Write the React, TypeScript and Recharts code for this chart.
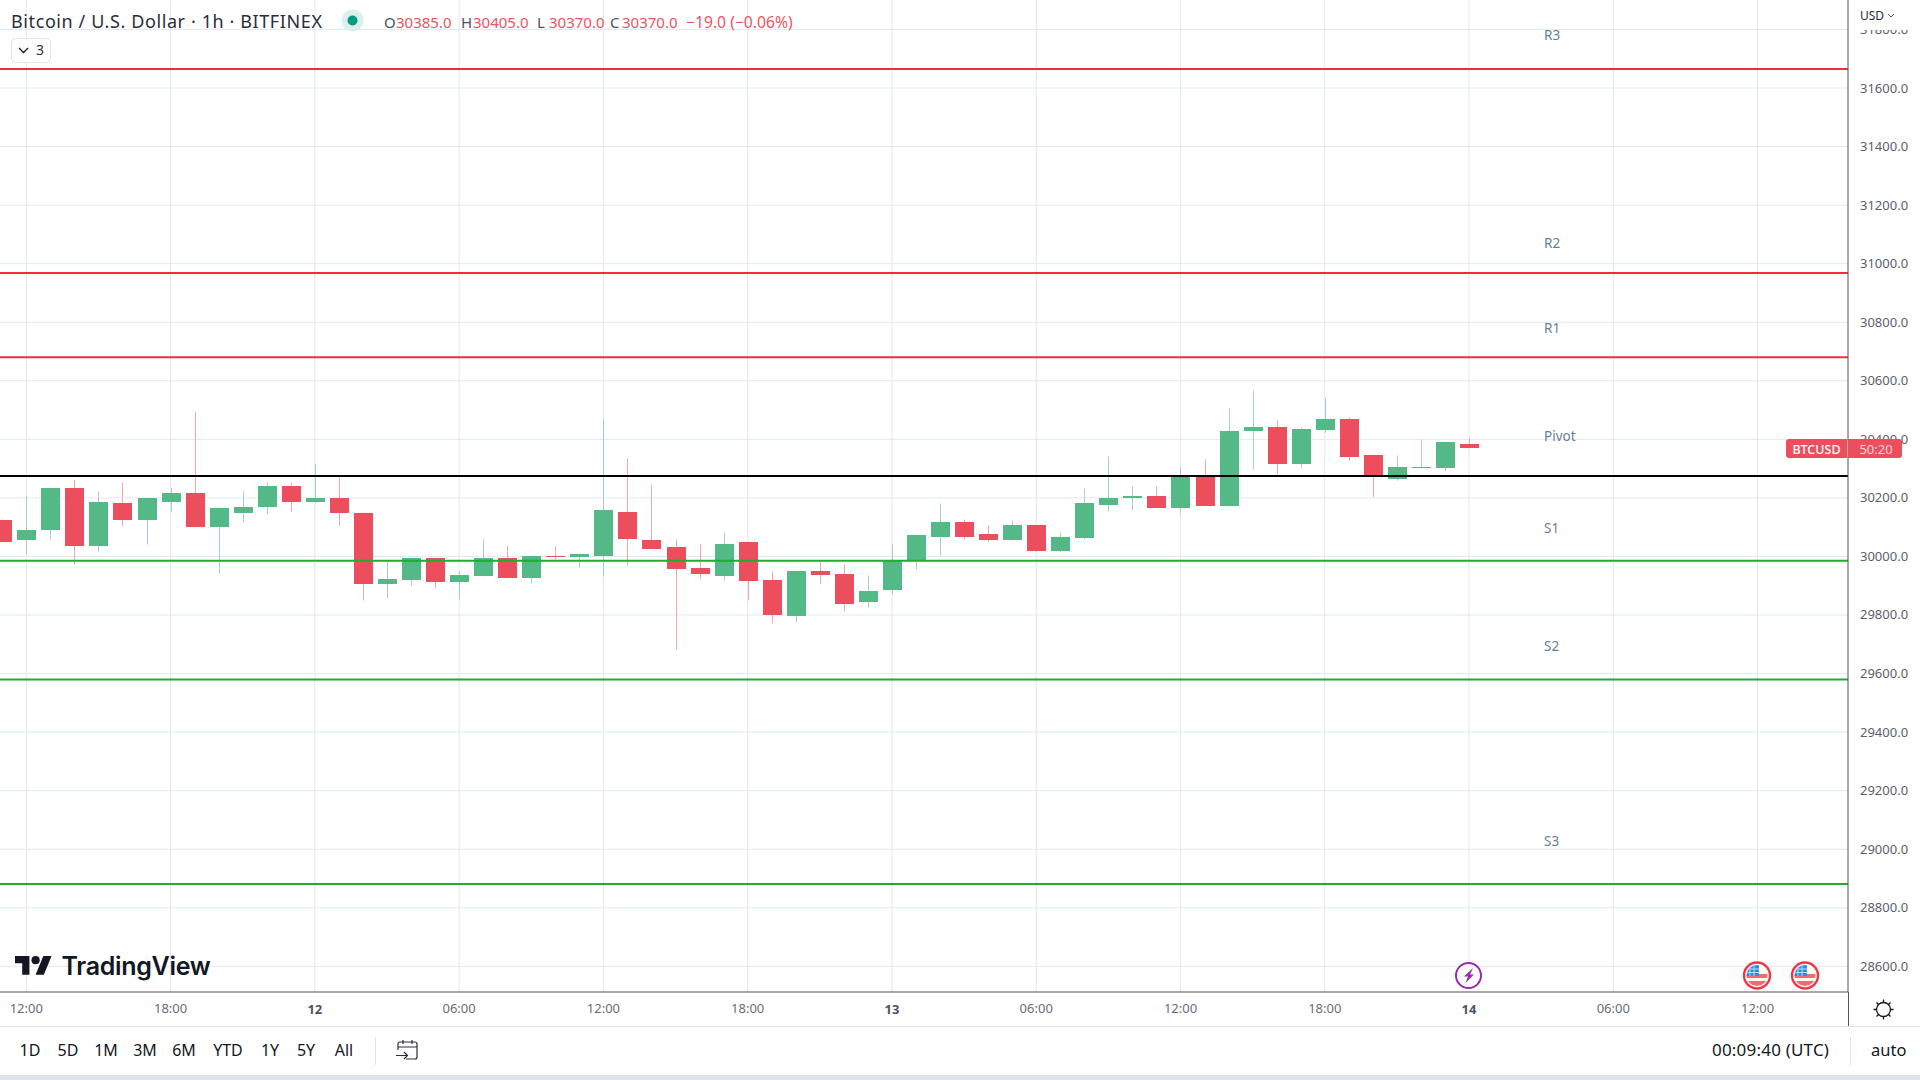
import React from "react";
import { ComposedChart, Bar, XAxis, YAxis, CartesianGrid, ReferenceLine } from "recharts";

const opens = [30123,30055,30089,30235,30037,30184,30123,30187,30218,30102,30150,30170,30242,30187,30201,30150,29905,29918,29993,29911,29932,29993,29928,30003,29997,30003,30153,30055,30031,29962,29932,30048,29918,29795,29949,29939,29843,29884,29986,30068,30119,30075,30055,30106,30017,30062,30177,30201,30208,30167,30273,30174,30430,30443,30317,30433,30470,30345,30266,30303,30303,30385];
const highs = [30126,30208,30235,30262,30222,30252,30198,30235,30494,30164,30222,30252,30252,30314,30276,30150,29983,29993,29993,29949,30058,30037,30000,30034,30010,30470,30334,30245,30058,30041,30082,30051,29949,29952,29983,29973,29935,30041,30075,30181,30126,30106,30123,30106,30082,30232,30341,30239,30239,30303,30331,30508,30566,30467,30440,30542,30474,30345,30345,30399,30392,30405];
const lows = [30048,30007,30058,29973,30014,30102,30041,30150,30099,29942,30116,30143,30153,30184,30106,29850,29857,29901,29891,29853,29932,29928,29908,29990,29962,29932,29969,30027,29682,29922,29918,29850,29772,29775,29905,29812,29826,29870,29956,30003,30058,30050,30055,30016,30015,30058,30153,30157,30167,30147,30174,30174,30297,30280,30303,30423,30327,30204,30259,30303,30293,30370];
const closes = [30048,30092,30235,30037,30187,30123,30198,30218,30099,30164,30170,30242,30187,30201,30147,29905,29922,29993,29911,29935,29995,29928,30000,29997,30007,30157,30058,30027,29956,29939,30041,29915,29799,29949,29935,29836,29881,29986,30072,30119,30068,30055,30106,30020,30068,30184,30201,30208,30167,30273,30174,30430,30443,30317,30436,30470,30338,30270,30307,30307,30392,30370];
const firstHour = -1;

const priceTicks = [28600,28800,29000,29200,29400,29600,29800,30000,30200,30400,30600,30800,31000,31200,31400,31600,31800];
const hourTicks = [0,6,12,18,24,30,36,42,48,54,60,66,72];
const hourLabels = ["12:00","18:00","12","06:00","12:00","18:00","13","06:00","12:00","18:00","14","06:00","12:00"];
const boldLabels = ["12","13","14"];

const resistanceLevels = [31665,30968,30680];
const resistanceNames = ["R3","R2","R1"];
const pivotLevel = 30275;
const supportLevels = [29985,29580,28881];
const supportNames = ["S1","S2","S3"];
const rangeButtons = ["1D","5D","1M","3M","6M","YTD","1Y","5Y","All"];

const candles = opens.map((open, i) => ({
  hour: firstHour + i,
  open,
  high: highs[i],
  low: lows[i],
  close: closes[i],
  range: [lows[i], highs[i]],
}));

const FONT = "'Noto Sans', sans-serif";
const UP = "#53b987";
const DOWN = "#ed4e5e";
const UP_WICK = "#a6cfd0";
const DOWN_WICK = "#f7a3b0";
const RED_LINE = "#ee2d3f";
const GREEN_LINE = "#1fac2f";
const LABEL = "#6a8092";

const Candle = (props: any) => {
  const { x, y, width, height, payload } = props;
  const { open, close, high, low } = payload;
  const perUnit = high === low ? 0 : height / (high - low);
  const top = y + (high - Math.max(open, close)) * perUnit;
  const bottom = y + (high - Math.min(open, close)) * perUnit;
  const up = close >= open;
  const cx = x + width / 2;
  const bx = Math.round(cx - 9.5);
  const by = Math.round(top);
  const bh = Math.max(Math.round(bottom) - by, 1);
  return (
    <g>
      <rect x={bx + 9} y={y} width={1} height={height} fill={up ? UP_WICK : DOWN_WICK} />
      <rect x={bx} y={by} width={19} height={bh} fill={up ? UP : DOWN} />
    </g>
  );
};

const XTick = (props: any) => {
  const { x, y, payload } = props;
  const label = hourLabels[hourTicks.indexOf(payload.value)];
  const bold = boldLabels.includes(label);
  return (
    <text x={x} y={y} dy={4} textAnchor="middle" fontFamily={FONT} fontSize={13} fontWeight={bold ? 700 : 400} fill={bold ? "#50535e" : "#6a6d78"} dominantBaseline="middle">
      {label}
    </text>
  );
};

const YTick = (props: any) => {
  const { x, y, payload } = props;
  return (
    <text x={x} y={y - 0.5} textAnchor="start" fontFamily={FONT} fontSize={13} fill="#5d606b" dominantBaseline="central">
      {payload.value.toFixed(1)}
    </text>
  );
};

const levelLabel = (value: string, up: number) => ({
  value,
  position: "insideLeft" as const,
  dx: 1539,
  dy: -up,
  fill: LABEL,
  fontSize: 13.5,
  fontFamily: FONT,
});

const Flag = ({ cx, id }: { cx: number; id: string }) => (
  <g>
    <clipPath id={id}><circle cx={cx} cy={975.5} r={10.5} /></clipPath>
    <circle cx={cx} cy={975.5} r={13} fill="#fff" stroke="#f23645" strokeWidth={2.4} />
    <g clipPath={`url(#${id})`}>
      <rect x={cx - 11} y={965} width={22} height={21} fill="#fff" />
      <rect x={cx - 11} y={974} width={22} height={4} fill="#f56a6a" />
      <rect x={cx - 11} y={981} width={22} height={5} fill="#f56a6a" />
      <rect x={cx - 11} y={965} width={13} height={11} fill="#2f8fe8" />
      <path d={`M${cx - 7} 966v10M${cx - 3} 966v10M${cx - 11} 969h13M${cx - 11} 972.5h13`} stroke="#d5e8fb" strokeWidth={0.8} />
    </g>
  </g>
);

const Overlay = () => (
  <svg width={1920} height={1080} style={{ position: "absolute", left: 0, top: 0, pointerEvents: "none" }}>
    <rect x={1850} y={0} width={70} height={30} fill="#fff" />
    {/* logo */}
    <g transform="translate(15,952) scale(1.03)" fill="#131722">
      <path d="M14 22H7V11H0V4h14v18zM28 22h-8l7.5-18h8L28 22z" />
      <circle cx={20} cy={8} r={4} />
    </g>
    <text x={61.5} y={975} fontFamily="Inter, sans-serif" fontWeight={600} fontSize={25} fill="#131722" letterSpacing={-0.3}>TradingView</text>
    {/* last price tag */}
    <path d="M1789 439h58v19h-58a3 3 0 0 1-3-3v-13a3 3 0 0 1 3-3z" fill="#ed4e5e" />
    <path d="M1848 439h51a3 3 0 0 1 3 3v13a3 3 0 0 1-3 3h-51z" fill="#ed4e5e" />
    <text x={1816.5} y={449} textAnchor="middle" dominantBaseline="central" fontFamily={FONT} fontSize={12.5} fontWeight={500} fill="#fff">BTCUSD</text>
    <text x={1876} y={449} textAnchor="middle" dominantBaseline="central" fontFamily={FONT} fontSize={13} fill="#fcd5da">50:20</text>
    {/* event icons */}
    <circle cx={1468.5} cy={975.5} r={12.5} fill="#fff" stroke="#9c27b0" strokeWidth={2} />
    <path d="M1473 968l-9 8.5h4l-2.5 6.5 8.5-8.5h-4l3-6.5z" fill="#9c27b0" />
    <Flag cx={1757} id="flagA" />
    <Flag cx={1805} id="flagB" />
    {/* frame */}
    <line x1={0} y1={1026.5} x2={1920} y2={1026.5} stroke="#e0e3eb" />
    <line x1={1848.5} y1={992} x2={1848.5} y2={1026} stroke="#50535e" />
    <rect x={0} y={1075} width={1920} height={5} fill="#e0e3eb" />
    <line x1={375.5} y1={1037} x2={375.5} y2={1065} stroke="#e0e3eb" />
    <line x1={1850.5} y1={1037} x2={1850.5} y2={1065} stroke="#e0e3eb" />
    {/* gear */}
    <g stroke="#131722" strokeWidth={1.3} fill="none">
      <circle cx={1883.5} cy={1009.5} r={7} />
      <path d="M1883.5 999.5v3M1883.5 1016.5v3M1873.5 1009.5h3M1890.5 1009.5h3M1876.5 1002.5l2 2M1888.5 1014.5l2 2M1876.5 1016.5l2-2M1888.5 1004.5l2-2" />
    </g>
    {/* calendar */}
    <g stroke="#2a2e39" strokeWidth={1.2} fill="none">
      <path d="M398 1050v-6a2 2 0 0 1 2-2h15a2 2 0 0 1 2 2v13a2 2 0 0 1-2 2h-9" />
      <path d="M398 1047h19M403 1040v4M412 1040v4M396 1055.5h11M404 1052l3.5 3.5-3.5 3.5" />
    </g>
    {/* interval chevron box */}
    <rect x={11.5} y={38.5} width={39} height={24} rx={4} fill="#fff" stroke="#e0e3eb" />
    <path d="M19 48l4.5 4.5 4.5-4.5" stroke="#131722" strokeWidth={1.3} fill="none" />
    {/* status dot */}
    <circle cx={352.5} cy={20.5} r={11} fill="#dbefec" />
    <circle cx={352.5} cy={20.5} r={5} fill="#089981" />
    {/* usd chevron */}
    <path d="M1888 14l3 3 3-3" stroke="#50535e" strokeWidth={1} fill="none" />
  </svg>
);

const Txt = ({ x, y, w, children, color, size, align, spacing }: any) => (
  <div style={{ position: "absolute", left: x, top: y - 12, width: w, height: 24, lineHeight: "24px", whiteSpace: "nowrap", fontFamily: FONT, fontSize: size ?? 15, letterSpacing: spacing ?? 0, color: color ?? "#131722", textAlign: align ?? "left" }}>
    {children}
  </div>
);

const RED_TEXT = "#ef5261";
const GRAY_TEXT = "#50535e";
const ohlc = [["O", "30385.0", 384], ["H", "30405.0", 461], ["L", "30370.0", 537], ["C", "30370.0", 610]] as const;
const rangeCenters = [30, 68, 106, 145, 184, 228, 270, 306, 344];

export default function App() {
  return (
    <div style={{ position: "absolute", left: 0, top: 0, width: 1920, height: 1080, background: "#fff", overflow: "hidden" }}>
      <ComposedChart
        width={1920}
        height={1026}
        data={candles}
        margin={{ top: 0, right: 0, bottom: 0, left: 0 }}
      >
        <CartesianGrid stroke="#dfe9f0" strokeWidth={1} horizontalValues={priceTicks} verticalValues={hourTicks} />
        <XAxis
          dataKey="hour"
          type="number"
          domain={[-1.094, 75.76]}
          allowDataOverflow
          ticks={hourTicks}
          interval={0}
          height={34}
          tickLine={false}
          tickMargin={8}
          axisLine={{ stroke: "#50535e" }}
          tick={<XTick />}
        />
        <YAxis
          type="number"
          orientation="right"
          domain={[28512.3, 31900.6]}
          allowDataOverflow
          ticks={priceTicks}
          interval={0}
          width={72}
          tickLine={false}
          tickMargin={6}
          axisLine={{ stroke: "#50535e" }}
          tick={<YTick />}
        />
        <Bar dataKey="range" barSize={19} isAnimationActive={false} shape={<Candle />} />
        <ReferenceLine y={resistanceLevels[0]} stroke={RED_LINE} strokeWidth={2} label={levelLabel(resistanceNames[0], 33.5)} />
        <ReferenceLine y={resistanceLevels[1]} stroke={RED_LINE} strokeWidth={2} label={levelLabel(resistanceNames[1], 29.5)} />
        <ReferenceLine y={resistanceLevels[2]} stroke={RED_LINE} strokeWidth={2} label={levelLabel(resistanceNames[2], 29.5)} />
        <ReferenceLine y={pivotLevel} stroke="#000" strokeWidth={2} label={levelLabel("Pivot", 39.5)} />
        <ReferenceLine y={supportLevels[0]} stroke={GREEN_LINE} strokeWidth={2} label={levelLabel(supportNames[0], 33)} />
        <ReferenceLine y={supportLevels[1]} stroke={GREEN_LINE} strokeWidth={2} label={levelLabel(supportNames[1], 33)} />
        <ReferenceLine y={supportLevels[2]} stroke={GREEN_LINE} strokeWidth={2} label={levelLabel(supportNames[2], 43)} />
      </ComposedChart>
      <Overlay />
      <Txt x={11} y={21} size={18} spacing={0.6} color="#2a2e39">Bitcoin / U.S. Dollar · 1h · BITFINEX</Txt>
      {ohlc.map(([k, v, x]) => (
        <React.Fragment key={k}>
          <Txt x={x} y={22} color={GRAY_TEXT}>{k}</Txt>
          <Txt x={x + 12} y={22} color={RED_TEXT}>{v}</Txt>
        </React.Fragment>
      ))}
      <Txt x={686} y={22} size={15.7} color={RED_TEXT}>−19.0 (−0.06%)</Txt>
      <Txt x={36} y={50} color="#2a2e39" size={14}>3</Txt>
      <Txt x={1860} y={16} color="#2a2e39" size={12}>USD</Txt>
      {rangeButtons.map((b, i) => (
        <Txt key={b} x={rangeCenters[i] - 30} w={60} y={1050} align="center" size={16}>{b}</Txt>
      ))}
      <Txt x={1712} y={1050} size={17} spacing={0.2}>00:09:40 (UTC)</Txt>
      <Txt x={1871} y={1050} size={16.5}>auto</Txt>
    </div>
  );
}
